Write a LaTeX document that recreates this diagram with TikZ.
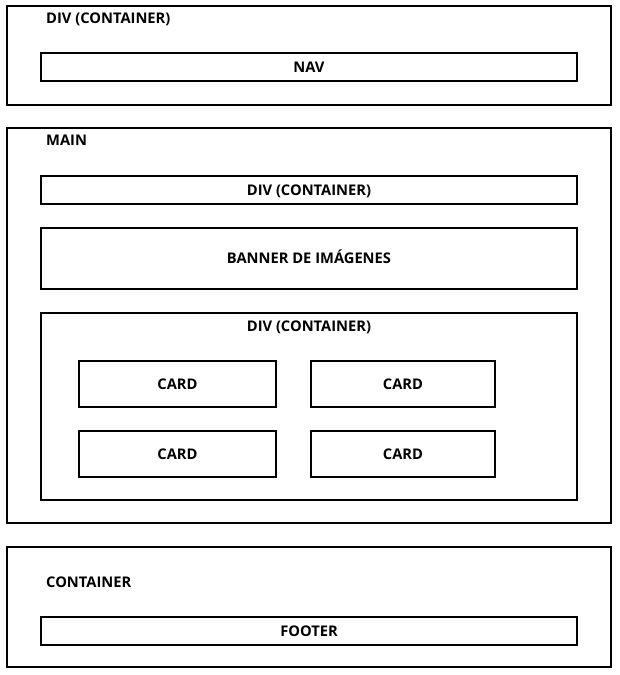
\documentclass[tikz,border=0pt]{standalone}
\usepackage{fontspec}
\setmainfont{Open Sans}

\tikzset{
  frame/.style={draw, line width=1.6pt, inner sep=0pt, outer sep=0pt,
    text height=10pt, text depth=0pt,
    font=\bfseries\fontsize{14.7}{17}\selectfont},
  wide/.style={frame, minimum width=536pt, minimum height=28pt},
  outer/.style={frame, minimum width=604pt},
  card/.style={frame, minimum height=46pt},
  tag/.style={anchor=west, inner sep=0pt, text height=10pt, text depth=0pt,
    font=\bfseries\fontsize{14.7}{17}\selectfont}
}

\begin{document}
\begin{tikzpicture}[x=1pt,y=-1pt]
  \useasboundingbox (0,0) rectangle (619,675);
  % header
  \node[outer, minimum height=99pt] (header) at (309,55.5) {};
  \node[tag] (headertag) at (46,18.5) {DIV (CONTAINER)};
  \node[wide] (nav) at (309,67) {NAV};
  % main
  \node[outer, minimum height=395pt] (main) at (309,325.5) {};
  \node[tag] (maintag) at (46,140.5) {MAIN};
  \node[wide] (div) at (309,190) {DIV (CONTAINER)};
  \node[wide, minimum height=61pt] (banner) at (309,258.5) {BANNER DE IMÁGENES};
  \node[frame, minimum width=536pt, minimum height=187pt] (cards) at (309,406.5) {};
  \node[tag, anchor=center] (cardstag) at (309,326.5) {DIV (CONTAINER)};
  \foreach \y [count=\i] in {384,454} {
    \node[card, minimum width=197pt] (cardL\i) at (177.5,\y) {CARD};
    \node[card, minimum width=184pt] (cardR\i) at (403,\y) {CARD};
  }
  % footer
  \node[outer, minimum height=120pt] (bottom) at (309,607) {};
  \node[tag] (bottomtag) at (46,582.5) {CONTAINER};
  \node[wide] (footer) at (309,631) {FOOTER};
\end{tikzpicture}
\end{document}
